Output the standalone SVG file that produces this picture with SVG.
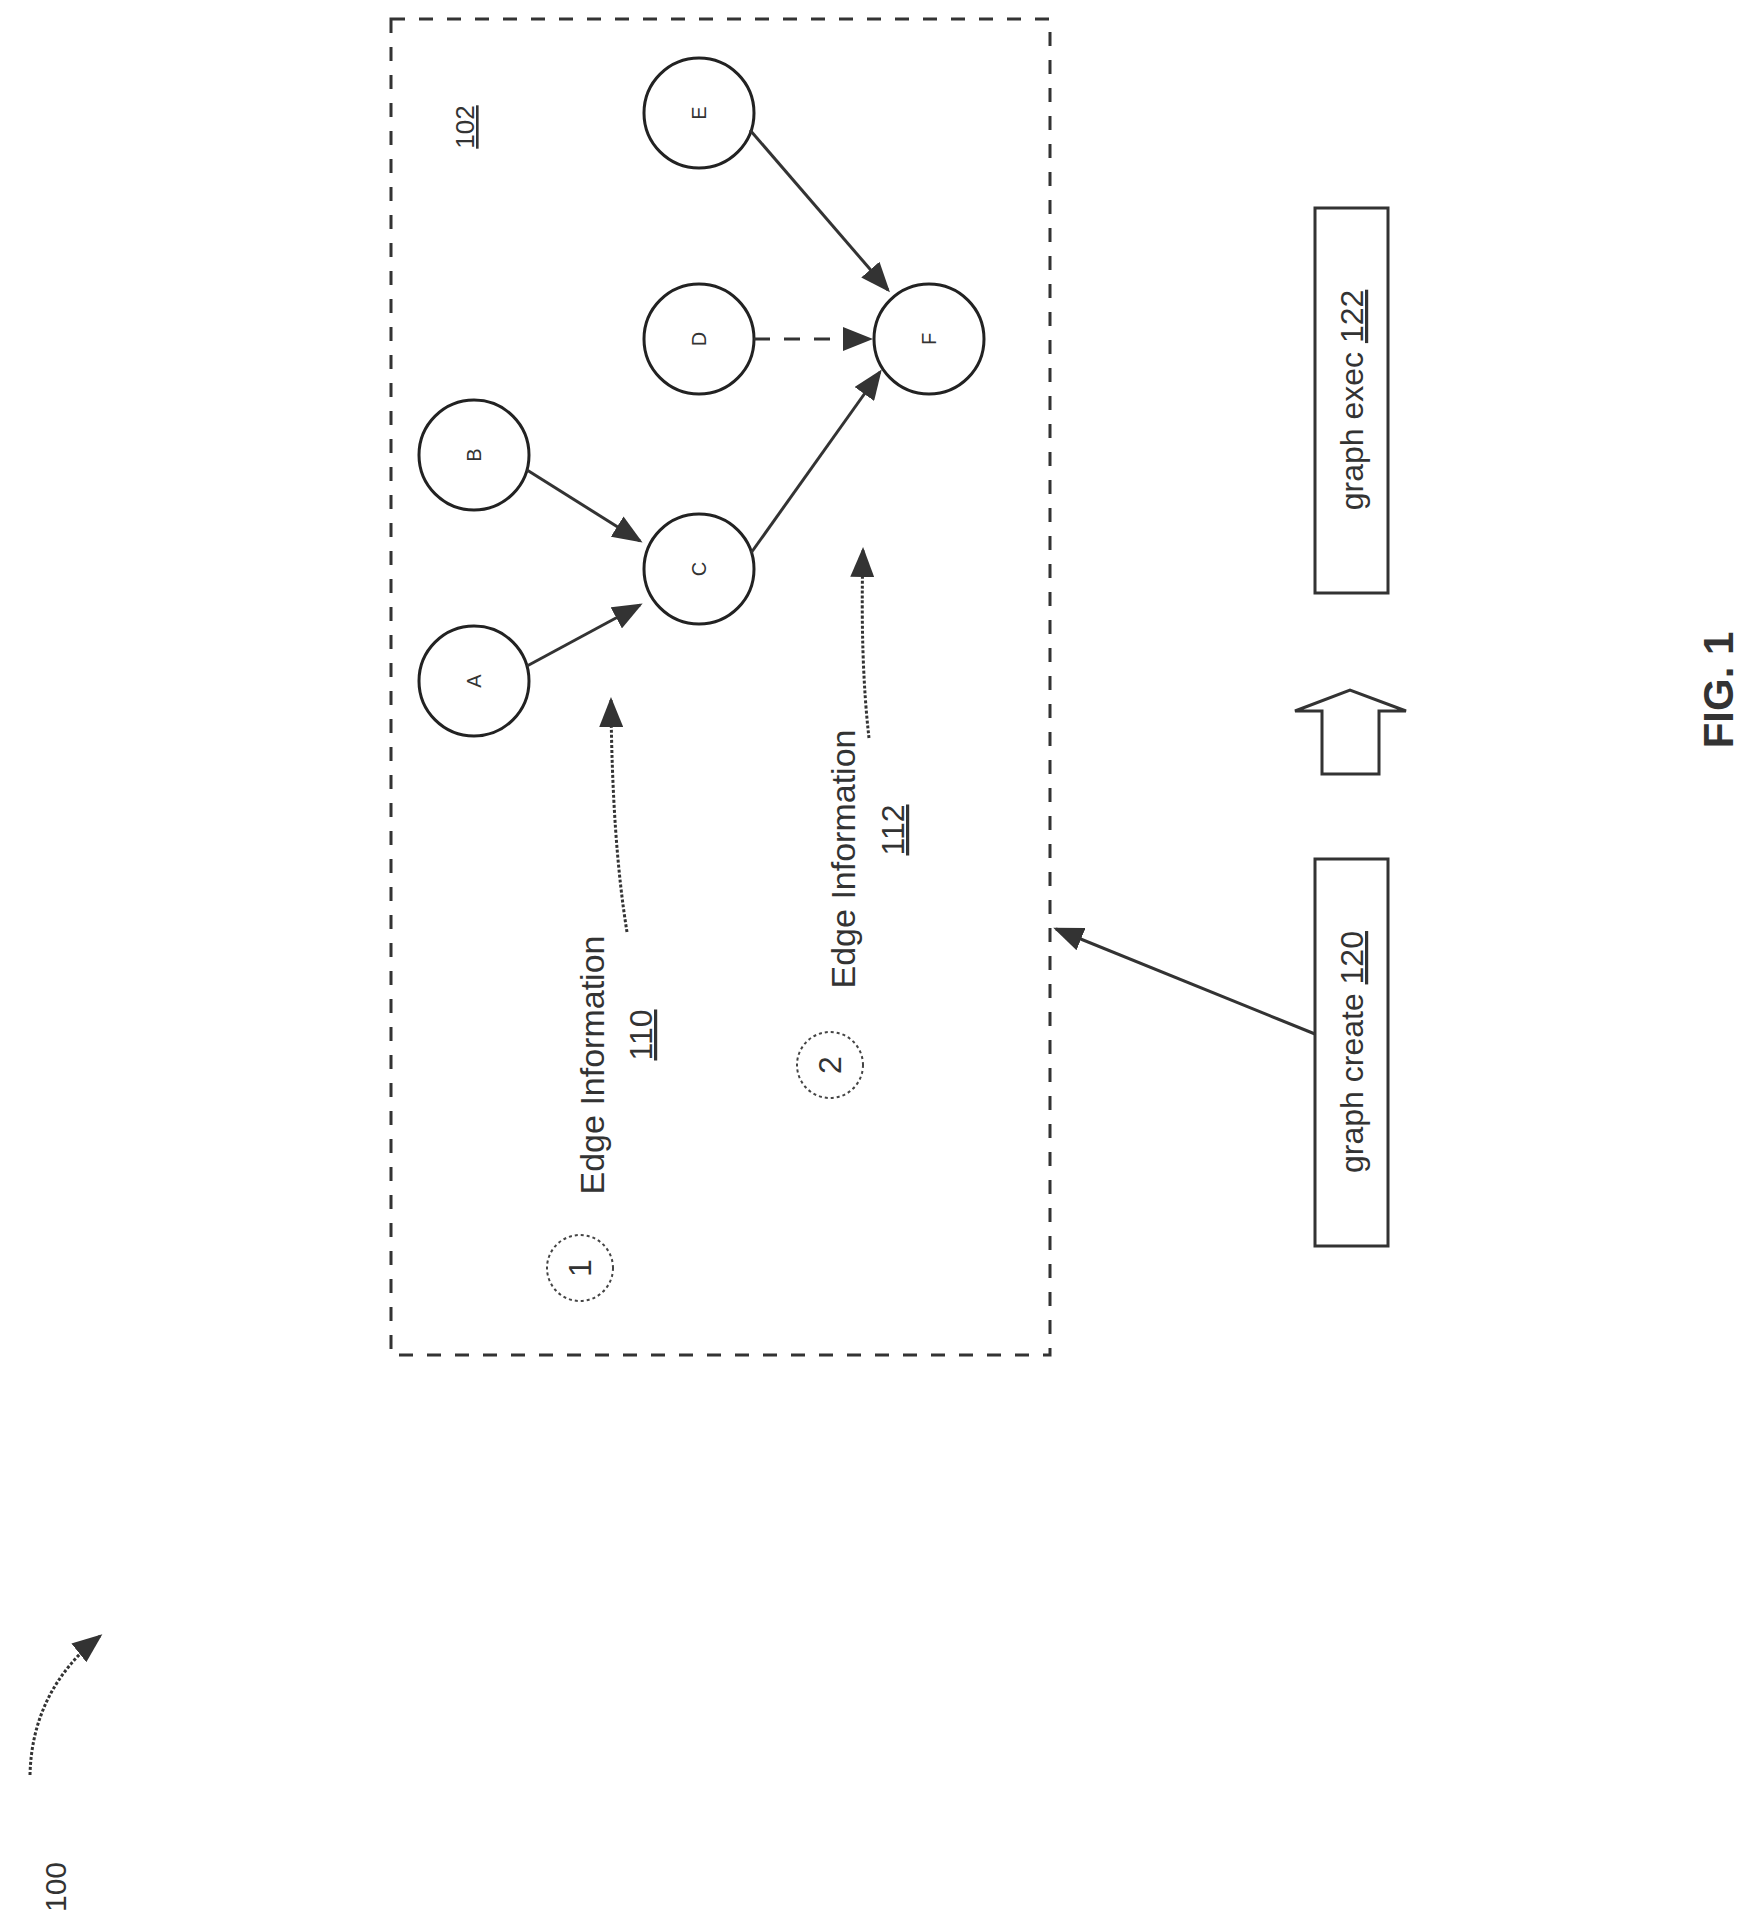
<svg xmlns="http://www.w3.org/2000/svg" width="1761" height="1914" viewBox="0 0 1761 1914">
<style>
.n{fill:none;stroke:#222;stroke-width:3}
.t{font-family:"Liberation Sans",Arial,sans-serif;fill:#333}
.e{stroke:#333;stroke-width:3;fill:none}
</style>
<defs>
<marker id="ah" markerWidth="10" markerHeight="8" refX="9" refY="4" orient="auto" markerUnits="strokeWidth"><path d="M0,0 L10,4 L0,8 Z" fill="#333"/></marker>
</defs>
<rect x="391" y="19" width="659" height="1336" fill="none" stroke="#333" stroke-width="3" stroke-dasharray="14,14"/>
<text class="t" font-size="26" text-decoration="underline" transform="translate(474,127) rotate(-90)" text-anchor="middle">102</text>
<g id="A"><circle class="n" cx="474" cy="681" r="55"/><text class="t" font-size="20" transform="translate(481,681) rotate(-90)" text-anchor="middle">A</text></g>
<g id="B"><circle class="n" cx="474" cy="455" r="55"/><text class="t" font-size="20" transform="translate(481,455) rotate(-90)" text-anchor="middle">B</text></g>
<g id="C"><circle class="n" cx="699" cy="569" r="55"/><text class="t" font-size="20" transform="translate(706,569) rotate(-90)" text-anchor="middle">C</text></g>
<g id="D"><circle class="n" cx="699" cy="339" r="55"/><text class="t" font-size="20" transform="translate(706,339) rotate(-90)" text-anchor="middle">D</text></g>
<g id="E"><circle class="n" cx="699" cy="113" r="55"/><text class="t" font-size="20" transform="translate(706,113) rotate(-90)" text-anchor="middle">E</text></g>
<g id="F"><circle class="n" cx="929" cy="339" r="55"/><text class="t" font-size="20" transform="translate(936,339) rotate(-90)" text-anchor="middle">F</text></g>
<g id="info110">
<circle cx="580" cy="1268" r="33" fill="none" stroke="#444" stroke-width="2" stroke-dasharray="3,3"/>
<text class="t" font-size="32" transform="translate(591,1268) rotate(-90)" text-anchor="middle">1</text>
<text class="t" font-size="34" transform="translate(604,1065) rotate(-90)" text-anchor="middle">Edge Information</text>
<text class="t" font-size="32" text-decoration="underline" transform="translate(652,1035) rotate(-90)" text-anchor="middle">110</text>
</g>
<g id="info112">
<circle cx="830" cy="1065" r="33" fill="none" stroke="#444" stroke-width="2" stroke-dasharray="3,3"/>
<text class="t" font-size="32" transform="translate(841,1065) rotate(-90)" text-anchor="middle">2</text>
<text class="t" font-size="34" transform="translate(855,859) rotate(-90)" text-anchor="middle">Edge Information</text>
<text class="t" font-size="32" text-decoration="underline" transform="translate(904,830) rotate(-90)" text-anchor="middle">112</text>
</g>
<g id="create"><rect x="1315" y="859" width="73" height="387" fill="none" stroke="#333" stroke-width="3"/>
<text class="t" font-size="32" transform="translate(1363,1052) rotate(-90)" text-anchor="middle">graph create <tspan text-decoration="underline">120</tspan></text></g>
<g id="exec"><rect x="1315" y="208" width="73" height="385" fill="none" stroke="#333" stroke-width="3"/>
<text class="t" font-size="32" transform="translate(1363,400) rotate(-90)" text-anchor="middle">graph exec <tspan text-decoration="underline">122</tspan></text></g>
<g id="blockarrow"><path d="M1322,774 L1322,711 L1295,711 L1350,690 L1406,711 L1379,711 L1379,774 Z" fill="none" stroke="#333" stroke-width="3"/></g>
<text class="t" font-size="42" font-weight="bold" transform="translate(1733,690) rotate(-90)" text-anchor="middle">FIG. 1</text>
<text class="t" font-size="30" transform="translate(66,1887) rotate(-90)" text-anchor="middle">100</text>
<g id="connectors">
<line class="e" x1="527" y1="666" x2="640" y2="605" marker-end="url(#ah)"/>
<line class="e" x1="527" y1="470" x2="640" y2="541" marker-end="url(#ah)"/>
<line class="e" x1="751" y1="553" x2="880" y2="372" marker-end="url(#ah)"/>
<line class="e" x1="754" y1="339" x2="870" y2="339" stroke-dasharray="16,14" marker-end="url(#ah)"/>
<line class="e" x1="750" y1="130" x2="888" y2="290" marker-end="url(#ah)"/>
<path class="e" d="M627,932 Q612,840 611,700" stroke-width="2" stroke-dasharray="3,2" marker-end="url(#ah)"/>
<path class="e" d="M869,738 Q860,660 863,550" stroke-width="2" stroke-dasharray="3,2" marker-end="url(#ah)"/>
<line class="e" x1="1315" y1="1034" x2="1056" y2="929" stroke-width="2" marker-end="url(#ah)"/>
<path class="e" d="M30,1775 Q32,1690 100,1636" stroke-width="2" stroke-dasharray="3,2" marker-end="url(#ah)"/>
</g>
</svg>
